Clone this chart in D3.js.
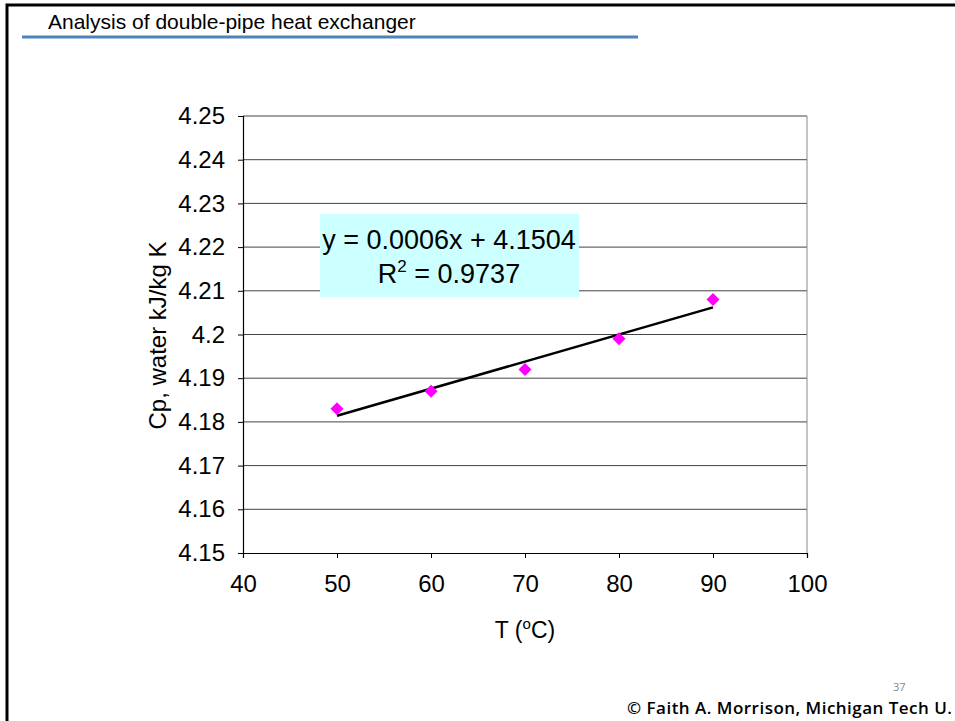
<!DOCTYPE html>
<html>
<head>
<meta charset="utf-8">
<script src="https://cdn.jsdelivr.net/npm/d3@7"></script>
<style>
    body { margin: 0; background: #fff; }
    svg { display: block; }
</style>
</head>
<body>
<div id="chart"></div>
<script>
// data
const temps = [50, 60, 70, 80, 90];
const cpWater = [4.183, 4.187, 4.192, 4.199, 4.208];
const yTicks = [4.15, 4.16, 4.17, 4.18, 4.19, 4.2, 4.21, 4.22, 4.23, 4.24, 4.25];
const xTicks = [40, 50, 60, 70, 80, 90, 100];
const fitLines = ["y = 0.0006x + 4.1504", "R2 = 0.9737"];

const width = 955, height = 721;
const plot = { left: 243, right: 807, top: 116, bottom: 553 };

const svg = d3.select("#chart")
    .append("svg")
    .attr("width", width)
    .attr("height", height)
    .style("font-family", "'Liberation Sans', Arial, sans-serif");

// slide frame
svg.append("path")
    .attr("d", `M7,${height} V5 H${width}`)
    .attr("fill", "none")
    .attr("stroke", "#000")
    .attr("stroke-width", 3);

svg.append("text")
    .attr("x", 48)
    .attr("y", 29)
    .attr("font-size", "21px")
    .attr("fill", "#000")
    .text("Analysis of double-pipe heat exchanger");

svg.append("line")
    .attr("x1", 22).attr("x2", 638)
    .attr("y1", 37).attr("y2", 37)
    .attr("stroke", "#4f81bd")
    .attr("stroke-width", 3);

const x = d3.scaleLinear().domain([40, 100]).range([plot.left, plot.right]);
const y = d3.scaleLinear().domain([4.15, 4.25]).range([plot.bottom, plot.top]);

// gridlines
svg.append("g")
    .selectAll("line")
    .data(yTicks.slice(1))
    .join("line")
    .attr("x1", plot.left).attr("x2", plot.right)
    .attr("y1", d => y(d)).attr("y2", d => y(d))
    .attr("stroke", "#444")
    .attr("stroke-width", 1);

// right border of plot area
svg.append("line")
    .attr("x1", plot.right).attr("x2", plot.right)
    .attr("y1", plot.top).attr("y2", plot.bottom)
    .attr("stroke", "#888")
    .attr("stroke-width", 1);

const yAxis = svg.append("g")
    .attr("transform", `translate(${plot.left},0)`)
    .call(d3.axisLeft(y).tickValues(yTicks).tickFormat(d => String(+d.toFixed(2))).tickSize(5).tickPadding(13));

const xAxis = svg.append("g")
    .attr("transform", `translate(0,${plot.bottom})`)
    .call(d3.axisBottom(x).tickValues(xTicks).tickFormat(d3.format("d")).tickSize(5).tickPadding(17));

[yAxis, xAxis].forEach(g => {
    g.select(".domain").attr("stroke", "#000").attr("stroke-width", 1.2);
    g.selectAll(".tick line").attr("stroke", "#000");
    g.selectAll(".tick text")
        .attr("fill", "#000")
        .attr("font-size", "24px")
        .attr("font-family", "'Liberation Sans', Arial, sans-serif");
});

// axis titles
svg.append("text")
    .attr("transform", `translate(166,${(plot.top + plot.bottom) / 2 + 1}) rotate(-90)`)
    .attr("text-anchor", "middle")
    .attr("font-size", "24px")
    .text("Cp, water kJ/kg K");

const xTitle = svg.append("text")
    .attr("x", x(70))
    .attr("y", 638)
    .attr("text-anchor", "middle")
    .attr("font-size", "23px");
xTitle.append("tspan").text("T (");
xTitle.append("tspan").attr("dy", -9).attr("font-size", "15px").text("o");
xTitle.append("tspan").attr("dy", 9).text("C)");

// linear trendline (least squares from the points)
const mx = d3.mean(temps), my = d3.mean(cpWater);
const slope = d3.sum(temps, (t, i) => (t - mx) * (cpWater[i] - my)) / d3.sum(temps, t => (t - mx) ** 2);
const intercept = my - slope * mx;
const xEnds = d3.extent(temps);

svg.append("line")
    .attr("x1", x(xEnds[0])).attr("y1", y(slope * xEnds[0] + intercept))
    .attr("x2", x(xEnds[1])).attr("y2", y(slope * xEnds[1] + intercept))
    .attr("stroke", "#000")
    .attr("stroke-width", 2.5);

// markers
svg.append("g")
    .selectAll("path")
    .data(temps.map((t, i) => [t, cpWater[i]]))
    .join("path")
    .attr("transform", d => `translate(${x(d[0])},${y(d[1])})`)
    .attr("d", "M0,-6.5 L6.5,0 L0,6.5 L-6.5,0 Z")
    .attr("fill", "#ff00ff");

// equation box
svg.append("rect")
    .attr("x", 320).attr("y", 214)
    .attr("width", 259).attr("height", 83)
    .attr("fill", "#ccffff");

svg.append("text")
    .attr("x", 449).attr("y", 249)
    .attr("text-anchor", "middle")
    .attr("font-size", "27px")
    .text(fitLines[0]);

const r2 = svg.append("text")
    .attr("x", 449).attr("y", 283)
    .attr("text-anchor", "middle")
    .attr("font-size", "27px");
r2.append("tspan").text("R");
r2.append("tspan").attr("dy", -11).attr("font-size", "17px").text("2");
r2.append("tspan").attr("dy", 11).text(fitLines[1].slice(2));

// footer
svg.append("text")
    .attr("x", 893).attr("y", 691)
    .attr("font-size", "11px")
    .attr("fill", "#888")
    .attr("font-family", "'Open Sans', 'Noto Sans', sans-serif")
    .text("37");

svg.append("text")
    .attr("x", 952).attr("y", 714)
    .attr("text-anchor", "end")
    .attr("font-size", "17px")
    .attr("font-weight", "600")
    .attr("textLength", 325)
    .attr("font-family", "'Open Sans', 'Noto Sans', sans-serif")
    .attr("fill", "#000")
    .text("© Faith A. Morrison, Michigan Tech U.");
</script>
</body>
</html>
